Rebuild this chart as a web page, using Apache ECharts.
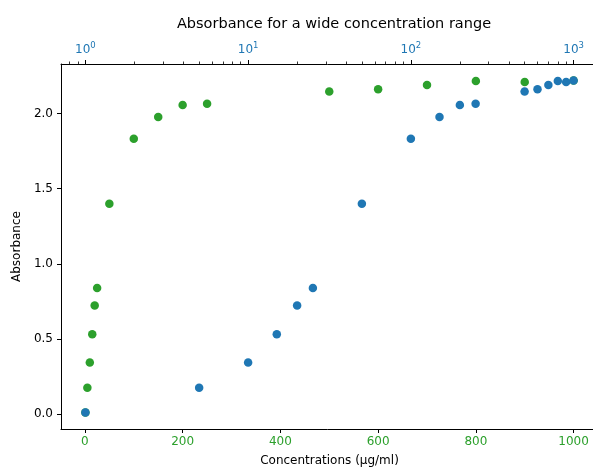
<!DOCTYPE html>
<html>
<head>
<meta charset="utf-8">
<script src="https://cdn.jsdelivr.net/npm/echarts@6/dist/echarts.min.js"></script>
<style>
  html, body { margin: 0; padding: 0; background: #fff; }
  #chart { width: 593px; height: 470px; }
</style>
</head>
<body>
<div id="chart"></div>
<script>
// Concentration series (µg/ml) and measured absorbance
const concentrations = [1, 5, 10, 15, 20, 25, 50, 100, 150, 200, 250, 500, 600, 700, 800, 900, 1000];
const absorbance = [0.01, 0.175, 0.343, 0.53, 0.722, 0.838, 1.40, 1.832, 1.978, 2.058, 2.065, 2.147, 2.162, 2.19, 2.218, 2.211, 2.22];

// Tick positions
const linearTicks = [0, 200, 400, 600, 800, 1000];
const logMajorTicks = [1, 10, 100, 1000];
const logMinorTicks = [0.8, 0.9, 2, 3, 4, 5, 6, 7, 8, 9, 20, 30, 40, 50, 60, 70, 80, 90,
                       200, 300, 400, 500, 600, 700, 800, 900];
const yTicks = [0, 0.5, 1.0, 1.5, 2.0];

const BLUE = '#1f77b4';
const GREEN = '#2ca02c';
const FONT = 'DejaVu Sans';

// Axis limits with 5% padding around the data
const cMin = Math.min(...concentrations), cMax = Math.max(...concentrations);
const linPad = (cMax - cMin) * 0.05;
const lgMin = Math.log10(cMin), lgMax = Math.log10(cMax);
const lgPad = (lgMax - lgMin) * 0.05;
const aMin = Math.min(...absorbance), aMax = Math.max(...absorbance);
const yPad = (aMax - aMin) * 0.05;

const pairs = concentrations.map((c, i) => [c, absorbance[i]]);

const chart = echarts.init(document.getElementById('chart'), null, { renderer: 'canvas' });

const lineStyle = { color: '#000', width: 1 };

chart.setOption({
  animation: false,
  backgroundColor: '#fff',
  textStyle: { fontFamily: FONT },
  title: {
    text: 'Absorbance for a wide concentration range',
    left: 329,
    textAlign: 'center',
    top: 12,
    textStyle: { fontFamily: FONT, fontSize: 14.5, fontWeight: 'normal', color: '#000' }
  },
  grid: { left: 61, top: 64, width: 537, height: 365, containLabel: false, outerBoundsMode: 'none' },
  xAxis: [
    {
      // linear concentration axis (bottom)
      type: 'value',
      position: 'bottom',
      min: cMin - linPad,
      max: cMax + linPad,
      name: 'Concentrations (μg/ml)',
      nameLocation: 'middle',
      nameGap: 26,
      nameTextStyle: { fontFamily: FONT, fontSize: 12, color: '#000' },
      axisLine: { show: true, onZero: false, lineStyle },
      axisTick: { show: true, inside: false, length: 4, lineStyle, customValues: linearTicks },
      axisLabel: {
        show: true, color: GREEN, fontFamily: FONT, fontSize: 12, margin: 7,
        customValues: linearTicks,
        formatter: v => String(v)
      },
      splitLine: { show: false }
    },
    {
      // log concentration axis (top) carrying the blue points
      type: 'log',
      logBase: 10,
      position: 'top',
      min: Math.pow(10, lgMin - lgPad),
      max: Math.pow(10, lgMax + lgPad),
      axisLine: { show: true, onZero: false, lineStyle },
      axisTick: { show: false },
      axisLabel: { show: false },
      splitLine: { show: false }
    },
    {
      // decade ticks and labels of the log axis, in exponent space
      type: 'value',
      position: 'top',
      min: lgMin - lgPad,
      max: lgMax + lgPad,
      axisLine: { show: false, onZero: false },
      axisTick: { show: true, length: 4, lineStyle, customValues: logMajorTicks.map(Math.log10) },
      axisLabel: {
        show: true,
        margin: 6,
        customValues: logMajorTicks.map(Math.log10),
        formatter: v => '{b|10}{s|' + Math.round(v) + '}',
        rich: {
          b: { fontFamily: FONT, fontSize: 12, color: BLUE },
          s: { fontFamily: FONT, fontSize: 8.5, color: BLUE, padding: [0, 0, 8, 0] }
        }
      },
      splitLine: { show: false }
    },
    {
      // minor ticks of the log axis
      type: 'value',
      position: 'top',
      min: lgMin - lgPad,
      max: lgMax + lgPad,
      axisLine: { show: false, onZero: false },
      axisTick: { show: true, length: 2.5, lineStyle: { color: '#000', width: 0.8 }, customValues: logMinorTicks.map(Math.log10) },
      axisLabel: { show: false },
      splitLine: { show: false }
    }
  ],
  yAxis: [
    {
      type: 'value',
      position: 'left',
      min: aMin - yPad,
      max: aMax + yPad,
      name: 'Absorbance',
      nameLocation: 'middle',
      nameRotate: 90,
      nameGap: 38,
      nameTextStyle: { fontFamily: FONT, fontSize: 12, color: '#000' },
      axisLine: { show: true, onZero: false, lineStyle },
      axisTick: { show: true, length: 4, lineStyle, customValues: yTicks },
      axisLabel: {
        show: true, color: '#000', fontFamily: FONT, fontSize: 12, margin: 8,
        customValues: yTicks,
        formatter: v => v.toFixed(1)
      },
      splitLine: { show: false }
    }
  ],
  series: [
    {
      name: 'linear',
      type: 'scatter',
      xAxisIndex: 0,
      yAxisIndex: 0,
      data: pairs,
      symbol: 'circle',
      symbolSize: 8.5,
      itemStyle: { color: GREEN, opacity: 1 },
      z: 2
    },
    {
      name: 'log',
      type: 'scatter',
      xAxisIndex: 1,
      yAxisIndex: 0,
      data: pairs,
      symbol: 'circle',
      symbolSize: 8.5,
      itemStyle: { color: BLUE, opacity: 1 },
      z: 3
    }
  ]
});
</script>
</body>
</html>
